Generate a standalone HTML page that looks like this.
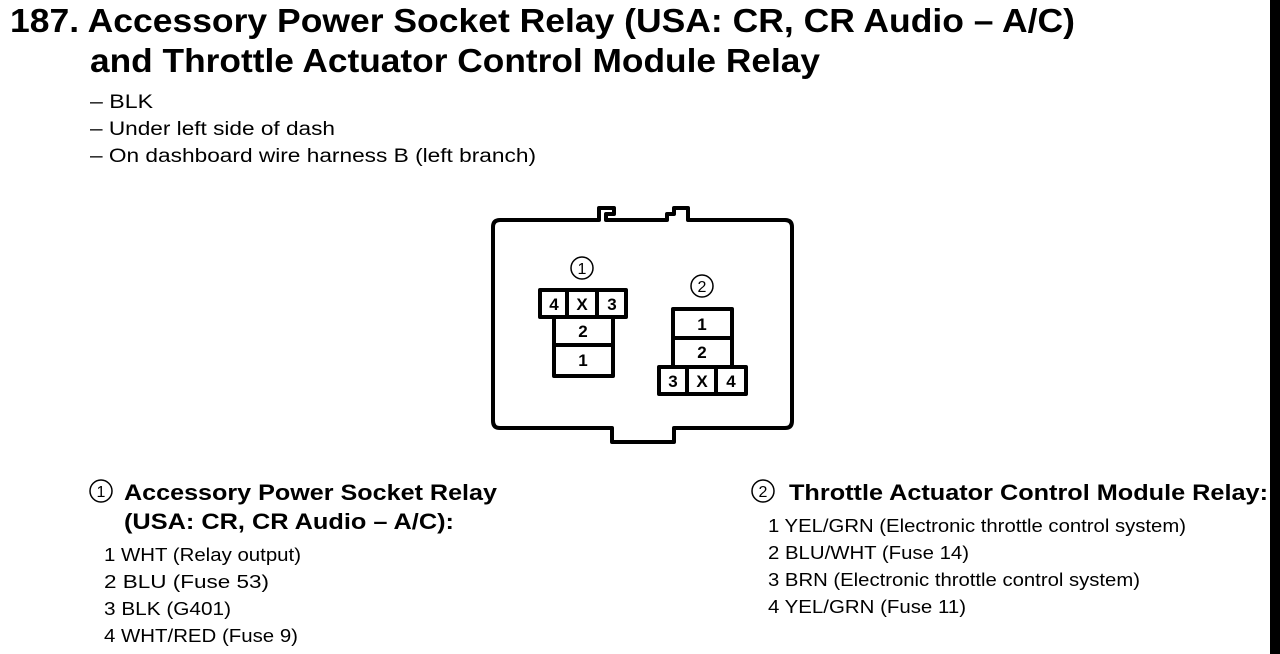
<!DOCTYPE html>
<html><head><meta charset="utf-8"><style>
html,body{margin:0;padding:0;background:#fff;}
svg{display:block;}
text{font-family:"Liberation Sans",Arial,sans-serif;fill:#000;}
.b{font-weight:bold;}
</style></head><body>
<svg width="1280" height="654" viewBox="0 0 1280 654" xmlns="http://www.w3.org/2000/svg">
<rect x="0" y="0" width="1280" height="654" fill="#fff"/>
<rect x="1270" y="0" width="10" height="654" fill="#000"/>

<text class="b" x="10" y="32" font-size="33" textLength="1065" lengthAdjust="spacingAndGlyphs">187. Accessory Power Socket Relay (USA: CR, CR Audio – A/C)</text>
<text class="b" x="90" y="72" font-size="33" textLength="730" lengthAdjust="spacingAndGlyphs">and Throttle Actuator Control Module Relay</text>

<text x="90" y="108" font-size="19" textLength="63" lengthAdjust="spacingAndGlyphs">– BLK</text>
<text x="90" y="135" font-size="19" textLength="245" lengthAdjust="spacingAndGlyphs">– Under left side of dash</text>
<text x="90" y="162" font-size="19" textLength="446" lengthAdjust="spacingAndGlyphs">– On dashboard wire harness B (left branch)</text>

<g fill="none" stroke="#000" stroke-width="4" stroke-linejoin="round">
<path d="M500 220 H599 V208 H614 V214 H606 V220 H667 V214 H674 V208 H688 V220 H785 Q792 220 792 227 V421 Q792 428 785 428 H674 V442 H612 V428 H500 Q493 428 493 421 V227 Q493 220 500 220 Z"/>
<rect x="540" y="290" width="86" height="27"/>
<line x1="567" y1="290" x2="567" y2="317"/>
<line x1="597" y1="290" x2="597" y2="317"/>
<rect x="554" y="317" width="59" height="59"/>
<line x1="554" y1="345" x2="613" y2="345"/>
<rect x="673" y="309" width="59" height="58"/>
<line x1="673" y1="338" x2="732" y2="338"/>
<rect x="659" y="367" width="87" height="27"/>
<line x1="687" y1="367" x2="687" y2="394"/>
<line x1="716" y1="367" x2="716" y2="394"/>
</g>
<g class="b" font-size="17" text-anchor="middle" font-weight="bold">
<text x="554" y="310">4</text><text x="582" y="310">X</text><text x="612" y="310">3</text>
<text x="583" y="337">2</text><text x="583" y="366">1</text>
<text x="702" y="330">1</text><text x="702" y="358">2</text>
<text x="673" y="387">3</text><text x="702" y="387">X</text><text x="731" y="387">4</text>
</g>
<g fill="none" stroke="#000" stroke-width="1.5">
<circle cx="582" cy="268" r="11"/><circle cx="702" cy="286" r="11"/>
<circle cx="101" cy="491" r="11"/><circle cx="763" cy="491" r="11"/>
</g>
<g font-size="16" text-anchor="middle">
<text x="582" y="274">1</text><text x="702" y="292">2</text>
<text x="101" y="497">1</text><text x="763" y="497">2</text>
</g>

<text class="b" x="124" y="500" font-size="22" textLength="373" lengthAdjust="spacingAndGlyphs">Accessory Power Socket Relay</text>
<text class="b" x="124" y="529" font-size="22" textLength="330" lengthAdjust="spacingAndGlyphs">(USA: CR, CR Audio – A/C):</text>
<text x="104" y="561" font-size="18" textLength="197" lengthAdjust="spacingAndGlyphs">1 WHT (Relay output)</text>
<text x="104" y="588" font-size="18" textLength="165" lengthAdjust="spacingAndGlyphs">2 BLU (Fuse 53)</text>
<text x="104" y="615" font-size="18" textLength="127" lengthAdjust="spacingAndGlyphs">3 BLK (G401)</text>
<text x="104" y="642" font-size="18" textLength="194" lengthAdjust="spacingAndGlyphs">4 WHT/RED (Fuse 9)</text>

<text class="b" x="789" y="500" font-size="22" textLength="479" lengthAdjust="spacingAndGlyphs">Throttle Actuator Control Module Relay:</text>
<text x="768" y="532" font-size="18" textLength="418" lengthAdjust="spacingAndGlyphs">1 YEL/GRN (Electronic throttle control system)</text>
<text x="768" y="559" font-size="18" textLength="201" lengthAdjust="spacingAndGlyphs">2 BLU/WHT (Fuse 14)</text>
<text x="768" y="586" font-size="18" textLength="372" lengthAdjust="spacingAndGlyphs">3 BRN (Electronic throttle control system)</text>
<text x="768" y="613" font-size="18" textLength="198" lengthAdjust="spacingAndGlyphs">4 YEL/GRN (Fuse 11)</text>
</svg>
</body></html>
